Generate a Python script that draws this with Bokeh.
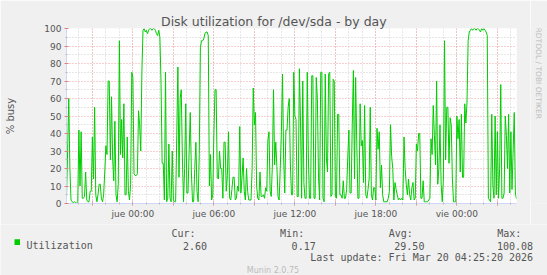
import numpy as np
import pandas as pd
from bokeh.plotting import figure
from bokeh.layouts import column, row
from bokeh.models import Range1d, FixedTicker, Label, CustomJSTickFormatter
from bokeh.embed import file_html
from bokeh.resources import INLINE

# ---------------- data ----------------
title_text = "Disk utilization for /dev/sda - by day"
y_label = "% busy"
series_name = "Utilization"
start_time = "2026-03-18 19:05"
step_minutes = 5

utilization = [
    3, 30, 60, 20, 2, 1, 0.5, 1, 0.5, 0.17,
    1, 42, 10, 41, 3, 3, 4, 18, 2, 1,
    1, 7, 7, 38, 14, 55, 5, 1, 5, 11,
    11, 3, 1, 5, 18, 33, 28, 70, 70, 25,
    61, 26, 13, 47, 5, 1, 11, 93, 28, 48,
    26, 57, 5, 5, 38, 7, 2, 11, 75, 72,
    17, 16, 16, 17, 53, 45, 30, 75, 99, 100,
    98, 99, 97, 99, 100.08, 100, 99, 100, 100, 99,
    97, 96, 99, 95, 70, 23, 23, 2, 75, 1,
    3, 34, 3, 1, 30, 2, 1, 1, 39, 78,
    15, 60, 65, 26, 1, 20, 57, 6, 6, 30,
    52, 18, 1, 1, 20, 35, 7, 1, 28, 89,
    93, 93, 94, 97, 98, 98, 96, 10, 28, 2,
    5, 40, 65, 65, 15, 14, 30, 20, 20, 3,
    35, 35, 7, 16, 41, 3, 2, 8, 15, 15,
    2, 3, 10, 7, 44, 6, 15, 26, 7, 2,
    20, 7, 2, 2, 2, 20, 66, 45, 52, 10,
    3, 2, 18, 4, 4, 5, 3, 9, 7, 36,
    41, 7, 4, 22, 65, 22, 35, 21, 4, 2,
    20, 41, 74, 26, 6, 42, 42, 55, 60, 22,
    5, 5, 75, 50, 48, 4, 4, 77, 47, 3,
    70, 12, 3, 3, 75, 26, 3, 3, 73, 73,
    3, 3, 72, 60, 15, 2, 75, 75, 3, 1,
    74, 26, 18, 74, 75, 4, 5, 71, 70, 4,
    3, 51, 51, 5, 5, 3, 13, 3, 3, 8,
    26, 42, 6, 6, 45, 76, 14, 72, 35, 3,
    3, 57, 33, 36, 12, 56, 5, 3, 8, 14,
    55, 5, 2, 9, 9, 2, 43, 31, 41, 9,
    22, 5, 1, 1, 1, 1, 3, 7, 45, 27,
    20, 2, 12, 8, 5, 2, 3, 2, 3, 2,
    38, 20, 11, 5, 14, 5, 2, 9, 12, 2,
    3, 34, 30, 40, 40, 3, 3, 13, 1, 1,
    1, 1, 2, 3, 37, 28, 56, 39, 22, 70,
    11, 20, 45, 11, 1, 14, 93, 25, 55, 55,
    23, 49, 45, 14, 1, 1, 1, 50, 37, 48,
    18, 51, 15, 15, 57, 46, 58, 93, 98, 99,
    100, 99, 100, 100, 99, 100, 100, 99, 98, 100,
    99, 100, 99, 98, 96, 3, 2, 1, 51, 10,
    3, 50, 5, 41, 3, 20, 68, 3, 3, 6,
    50, 39, 20, 51, 6, 41, 8, 30, 52, 6,
    2.6,
]

tick_times = ["2026-03-19 00:00", "2026-03-19 06:00", "2026-03-19 12:00",
              "2026-03-19 18:00", "2026-03-20 00:00"]
tick_labels = ["jue 00:00", "jue 06:00", "jue 12:00", "jue 18:00", "vie 00:00"]
y_major = list(range(0, 101, 10))
y_minor = list(range(5, 100, 10))

stat_names = ["Cur:", "Min:", "Avg:", "Max:"]
stat_values = ["2.60", "0.17", "29.50", "100.08"]
last_update = "Last update: Fri Mar 20 04:25:20 2026"
munin_version = "Munin 2.0.75"
rrd_credit = "RRDTOOL / TOBI OETIKER"

# ---------------- derived ----------------
times = pd.DatetimeIndex(pd.Timestamp(start_time)
                         + pd.to_timedelta(np.arange(len(utilization)) * step_minutes, unit="min"))
x_ms = (times.asi8 // 1_000_000).astype(float)

def to_ms(ts):
    return float(pd.Timestamp(ts).value // 1_000_000)

major_grid = pd.date_range(times[0].ceil("3h"), times[-1], freq="3h")
minor_grid = pd.date_range(times[0].ceil("1h"), times[-1], freq="1h")
major_ms = [to_ms(t) for t in major_grid]
minor_ms = [to_ms(t) for t in minor_grid]
label_ms = [to_ms(t) for t in tick_times]

# ---------------- style ----------------
W, H = 547, 275
TOP_B = 28            # border above the plot frame
MAIN_H = 224          # plot figure height (title + frame + x axis)
LEG_H = H - MAIN_H
STRIP_W = 17          # right credit strip
MAIN_W = W - STRIP_W
LEFT, FRAME_W, FRAME_H = 66, 450, 175

BG = "#F0F0F0"
FONT_COLOR = "#555555"
MGRID = "#F2A0A0"
GRID = "#CFCFCF"
AXIS = "#CFD6F8"
GREEN = "#00CC00"
mono = "DejaVu Sans Mono"


def text_fig(w, h, x0, y0):
    f = figure(width=w, height=h, output_backend="svg", toolbar_location=None,
               x_range=Range1d(x0, x0 + w), y_range=Range1d(y0 + h, y0),
               x_axis_location=None, y_axis_location=None, min_border=0,
               background_fill_color=BG, border_fill_color=BG, outline_line_color=None)
    f.grid.visible = False
    return f


def lab(f, text, X, Y, size, font="DejaVu Sans", align="left", baseline="alphabetic",
        color=FONT_COLOR, angle=0.0):
    f.add_layout(Label(x=X, y=Y, text=text, text_font=font, text_font_size=size,
                       text_align=align, text_baseline=baseline,
                       text_color=color, angle=angle))


# ---------------- main plot ----------------
p = figure(width=MAIN_W, height=MAIN_H, output_backend="svg", toolbar_location=None,
           x_range=Range1d(x_ms[0], x_ms[-1]), y_range=Range1d(0, 100),
           min_border_left=LEFT, min_border_right=MAIN_W - LEFT - FRAME_W,
           min_border_top=TOP_B, min_border_bottom=MAIN_H - TOP_B - FRAME_H,
           background_fill_color="#FFFFFF", border_fill_color=BG,
           outline_line_color=None)

p.title.text = title_text
p.title.align = "left"
p.title.offset = 94.5
p.title.vertical_align = "bottom"
p.title.standoff = 0
p.title.text_font = "DejaVu Sans"
p.title.text_font_size = "12.5px"
p.title.text_font_style = "normal"
p.title.text_color = FONT_COLOR

p.line(x_ms, utilization, line_color=GREEN, line_width=1)

p.xaxis.ticker = FixedTicker(ticks=major_ms, minor_ticks=minor_ms)
p.xaxis.formatter = CustomJSTickFormatter(args=dict(pos=label_ms, txt=tick_labels),
    code="const i = pos.indexOf(tick); return i >= 0 ? txt[i] : '';")
p.yaxis.ticker = FixedTicker(ticks=y_major, minor_ticks=y_minor)
p.xgrid.ticker = FixedTicker(ticks=major_ms, minor_ticks=minor_ms)
p.ygrid.ticker = FixedTicker(ticks=y_major, minor_ticks=y_minor)

for ax in (p.xaxis, p.yaxis):
    ax.axis_line_color = AXIS
    ax.major_tick_line_color = "#E08080"
    ax.minor_tick_line_color = "#BBBBBB"
    ax.major_tick_in = 2
    ax.major_tick_out = 2
    ax.minor_tick_in = 1
    ax.minor_tick_out = 1
    ax.major_label_text_font = "DejaVu Sans"
    ax.major_label_text_font_size = "9px"
    ax.major_label_text_color = FONT_COLOR
    ax.major_label_standoff = 3

p.yaxis.axis_label = y_label
p.yaxis.axis_label_text_font = "DejaVu Sans"
p.yaxis.axis_label_text_font_size = "10px"
p.yaxis.axis_label_text_font_style = "normal"
p.yaxis.axis_label_text_color = FONT_COLOR
p.yaxis.axis_label_standoff = 25

for gr in (p.xgrid, p.ygrid):
    gr.grid_line_color = MGRID
    gr.grid_line_dash = "1 2"
    gr.grid_line_width = 1
    gr.minor_grid_line_color = GRID
    gr.minor_grid_line_dash = "1 2"
    gr.minor_grid_line_width = 1

# ---------------- right credit strip (canvas pixel coords) ----------------
c = text_fig(STRIP_W, MAIN_H, MAIN_W, 0)
lab(c, rrd_credit, 538, 54, "7.5px", align="center", baseline="middle",
    color="#BDBDBD", angle=-np.pi / 2)

# ---------------- legend strip (canvas pixel coords) ----------------
g = text_fig(W, LEG_H, 0, MAIN_H)
g.quad(left=[14], right=[19.5], top=[238.8], bottom=[244.6], fill_color=GREEN, line_color=None)
lab(g, series_name, 26, 245, "10px", font=mono)
for k, (nm, val) in enumerate(zip(stat_names, stat_values)):
    lab(g, nm, 171 + 108.6 * k, 233, "10px", font=mono)
    lab(g, val, 206.5 + 108.7 * k, 245, "10px", font=mono, align="right")
lab(g, last_update, 532.6, 257, "10px", font=mono, align="right")
lab(g, munin_version, 272.5, 270, "8px", align="center", color="#BBBBBB")

layout = column(row(p, c), g)
open("out.html", "w").write(file_html(layout, INLINE))
